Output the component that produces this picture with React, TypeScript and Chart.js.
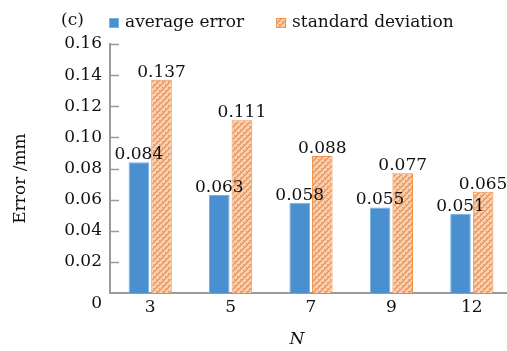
import { useEffect, useRef } from "react";
import { Chart, registerables } from "chart.js";

Chart.register(...registerables);

// Measurement data: error statistics versus number of points N
const categories = ["3", "5", "7", "9", "12"];
const averageError = [0.084, 0.063, 0.058, 0.055, 0.051];
const standardDeviation = [0.137, 0.111, 0.088, 0.077, 0.065];
const yTickValues = [0, 0.02, 0.04, 0.06, 0.08, 0.1, 0.12, 0.14, 0.16];
const seriesNames = ["average error", "standard deviation"];
const panelTag = "(c)";
const xTitle = "N";
const yTitle = "Error /mm";

const FONT = "'DejaVu Serif', 'Liberation Serif', serif";
const INK = "#111111";
const BLUE = "#4A90D0";
const BLUE_EDGE = "#78B0E2";
const ORANGE_EDGE = "#F0944F";
const AXIS_GRAY = "#9A9A9A";

function makeHatch(): CanvasPattern | string {
  const c = document.createElement("canvas");
  c.width = 6;
  c.height = 6;
  const g = c.getContext("2d");
  if (!g) return "#F6B185";
  g.fillStyle = "#FAD2B3";
  g.fillRect(0, 0, 6, 6);
  g.strokeStyle = "#EF9252";
  g.lineWidth = 1.4;
  g.beginPath();
  g.moveTo(-1, 7);
  g.lineTo(7, -1);
  g.moveTo(-1, 1);
  g.lineTo(1, -1);
  g.moveTo(5, 7);
  g.lineTo(7, 5);
  g.stroke();
  g.lineWidth = 1;
  g.beginPath();
  g.moveTo(3, 0);
  g.lineTo(5, 2);
  g.moveTo(0, 3);
  g.lineTo(2, 5);
  g.stroke();
  const p = g.createPattern(c, "repeat");
  return p ?? "#F6B185";
}

// Value labels above each bar
const valueLabels = {
  id: "valueLabels",
  afterDatasetsDraw(chart: any) {
    const ctx = chart.ctx as CanvasRenderingContext2D;
    ctx.save();
    ctx.font = `17px ${FONT}`;
    ctx.fillStyle = INK;
    ctx.textAlign = "center";
    ctx.textBaseline = "alphabetic";
    chart.data.datasets.forEach((ds: any, i: number) => {
      chart.getDatasetMeta(i).data.forEach((bar: any, j: number) => {
        ctx.fillText(Number(ds.data[j]).toFixed(3), bar.x, bar.y - 3);
      });
    });
    ctx.restore();
  },
};

// Short tick marks pointing into the plot from the y axis
const innerTicks = {
  id: "innerTicks",
  afterDraw(chart: any) {
    const y = chart.scales.y;
    const ctx = chart.ctx as CanvasRenderingContext2D;
    ctx.save();
    ctx.strokeStyle = AXIS_GRAY;
    ctx.lineWidth = 1.5;
    y.ticks.forEach((t: any) => {
      if (t.value === 0) return;
      const py = Math.round(y.getPixelForValue(t.value)) + 0.5;
      ctx.beginPath();
      ctx.moveTo(y.right, py);
      ctx.lineTo(y.right + 9, py);
      ctx.stroke();
    });
    ctx.restore();
  },
};

// Axis titles, panel tag and legend row
const annotations = {
  id: "annotations",
  afterDraw(chart: any) {
    const ctx = chart.ctx as CanvasRenderingContext2D;
    const area = chart.chartArea;
    ctx.save();
    ctx.font = `17px ${FONT}`;
    ctx.fillStyle = INK;

    // y axis title
    ctx.save();
    ctx.translate(21, (area.top + area.bottom) / 2 + 10);
    ctx.rotate(-Math.PI / 2);
    ctx.textAlign = "center";
    ctx.textBaseline = "middle";
    ctx.fillText(yTitle, 0, 0);
    ctx.restore();

    // x axis title
    ctx.save();
    ctx.font = `italic 17px ${FONT}`;
    ctx.textAlign = "center";
    ctx.textBaseline = "middle";
    ctx.fillText(xTitle, 297, 340);
    ctx.restore();

    // panel tag and legend
    const baseline = 27;
    ctx.textAlign = "left";
    ctx.textBaseline = "alphabetic";
    ctx.fillText(panelTag, 61, baseline - 2);

    let x = 109;
    chart.data.datasets.forEach((ds: any, i: number) => {
      ctx.fillStyle = ds.backgroundColor;
      ctx.fillRect(x, 18, 10, 10);
      ctx.strokeStyle = ds.borderColor;
      ctx.lineWidth = 1;
      ctx.strokeRect(x + 0.5, 18.5, 9, 9);
      ctx.fillStyle = INK;
      const tx = x + 16;
      ctx.fillText(seriesNames[i], tx, baseline);
      x = tx + ctx.measureText(seriesNames[i]).width + 32;
    });
    ctx.restore();
  },
};

export default function App() {
  const canvasRef = useRef<HTMLCanvasElement | null>(null);

  useEffect(() => {
    const canvas = canvasRef.current;
    if (!canvas) return;
    const hatch = makeHatch();

    const chart = new Chart(canvas, {
      type: "bar",
      data: {
        labels: categories,
        datasets: [
          {
            label: seriesNames[0],
            data: averageError,
            backgroundColor: BLUE,
            borderColor: BLUE_EDGE,
            borderWidth: 1,
            categoryPercentage: 0.5625,
            barPercentage: 0.91,
          },
          {
            label: seriesNames[1],
            data: standardDeviation,
            backgroundColor: hatch as any,
            borderColor: ORANGE_EDGE,
            borderWidth: 1,
            categoryPercentage: 0.5625,
            barPercentage: 0.91,
          },
        ],
      },
      options: {
        responsive: false,
        animation: false,
        devicePixelRatio: 1,
        layout: { padding: { top: 44, left: 0, right: 0, bottom: 0 } },
        plugins: {
          legend: { display: false },
          tooltip: { enabled: false },
        },
        scales: {
          x: {
            offset: true,
            grid: { display: false, drawTicks: false },
            border: { display: true, color: AXIS_GRAY, width: 2 },
            ticks: {
              color: INK,
              font: { family: FONT, size: 17 },
              padding: 4,
            },
            afterFit(scale: any) {
              scale.height = 58;
            },
          },
          y: {
            min: 0,
            max: 0.16,
            grid: { display: false, drawTicks: false },
            border: { display: true, color: AXIS_GRAY, width: 2 },
            afterBuildTicks(scale: any) {
              scale.ticks = yTickValues.map((v) => ({ value: v }));
            },
            ticks: {
              color: INK,
              font: { family: FONT, size: 17 },
              padding: 8,
              autoSkip: false,
              // the zero label sits half a line below the axis
              callback: (v: any) => (Number(v) === 0 ? ["", "0"] : Number(v).toFixed(2)),
            },
            afterFit(scale: any) {
              scale.width = 110;
            },
          },
        },
      },
      plugins: [valueLabels, innerTicks, annotations],
    });

    return () => chart.destroy();
  }, []);

  return (
    <div
      style={{
        position: "fixed",
        left: 0,
        top: 0,
        width: 507,
        height: 351,
        overflow: "hidden",
        background: "#ffffff",
      }}
    >
      <canvas ref={canvasRef} width={512} height={351} style={{ display: "block" }} />
    </div>
  );
}
